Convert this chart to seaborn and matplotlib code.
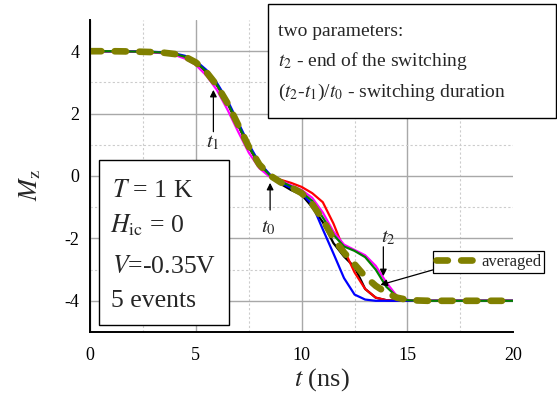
import numpy as np
import pandas as pd
import seaborn as sns
import matplotlib.pyplot as plt
from matplotlib.patches import Rectangle
from matplotlib.ticker import MultipleLocator

# time grid (ns) shared by all curves
t = [0, 1, 2, 3, 3.5, 4, 4.5, 5, 5.5, 6, 6.5, 7, 7.5, 8, 8.5, 9, 9.5, 10, 10.5,
     11, 11.5, 12, 12.5, 13, 13.5, 14, 14.5, 15, 15.5, 16, 17, 18, 19, 20]

# Mz for the 5 events
mz_black = [4.0, 4.0, 3.99, 3.97, 3.95, 3.91, 3.82, 3.64, 3.33, 2.9, 2.32, 1.62, 0.92, 0.36, 0.0,
            -0.25, -0.45, -0.6, -1.0, -1.48, -2.15, -2.58, -2.92, -3.62, -3.9, -3.98, -4.0, -4.0, -4.0,
            -4.0, -4.0, -4.0, -4.0, -4.0]
mz_red = [4.0, 4.0, 3.99, 3.97, 3.95, 3.91, 3.82, 3.65, 3.35, 2.92, 2.35, 1.65, 0.95, 0.38, 0.03,
          -0.12, -0.22, -0.35, -0.55, -0.84, -1.52, -2.36, -3.09, -3.62, -3.9, -3.98, -4.0, -4.0, -4.0,
          -4.0, -4.0, -4.0, -4.0, -4.0]
mz_blue = [4.0, 4.0, 4.0, 3.98, 3.96, 3.93, 3.85, 3.69, 3.4, 2.98, 2.42, 1.72, 1.02, 0.43, 0.05,
           -0.22, -0.38, -0.55, -0.92, -1.71, -2.48, -3.27, -3.8, -3.96, -4.0, -4.0, -4.0, -4.0, -4.0,
           -4.0, -4.0, -4.0, -4.0, -4.0]
mz_magenta = [4.0, 4.0, 3.99, 3.96, 3.93, 3.88, 3.76, 3.56, 3.22, 2.75, 2.12, 1.42, 0.75, 0.25, -0.03,
              -0.15, -0.3, -0.45, -0.7, -1.17, -1.78, -2.2, -2.37, -2.54, -2.88, -3.41, -3.85, -3.97, -4.0,
              -4.0, -4.0, -4.0, -4.0, -4.0]
mz_green = [4.0, 4.0, 3.99, 3.97, 3.95, 3.91, 3.82, 3.65, 3.35, 2.92, 2.35, 1.65, 0.95, 0.38, 0.02,
            -0.17, -0.33, -0.52, -0.8, -1.33, -1.88, -2.26, -2.4, -2.6, -3.0, -3.55, -3.87, -3.98, -4.0,
            -4.0, -4.0, -4.0, -4.0, -4.0]
mz_avg = [4.0, 4.0, 3.99, 3.97, 3.95, 3.91, 3.82, 3.64, 3.33, 2.9, 2.33, 1.64, 0.94, 0.37, 0.02,
          -0.2, -0.36, -0.55, -0.9, -1.4, -2.0, -2.45, -2.83, -3.22, -3.52, -3.74, -3.9, -3.97, -3.99,
          -4.0, -4.0, -4.0, -4.0, -4.0]

events = ["black", "red", "blue", "magenta", "green"]
colores = ["#000000", "#ff0000", "#0000ff", "#ff00ff", "#008000"]

df = pd.concat([
    pd.DataFrame({"t": t, "Mz": mz, "event": ev})
    for ev, mz in zip(events, [mz_black, mz_red, mz_blue, mz_magenta, mz_green])
])
df_avg = pd.DataFrame({"t": t, "Mz": mz_avg})

sns.set_theme(style="white")
plt.rcParams["font.family"] = ["Liberation Serif", "DejaVu Serif"]
plt.rcParams["mathtext.fontset"] = "stix"
plt.rcParams["axes.unicode_minus"] = False

W, H = 557, 399
fig = plt.figure(figsize=(W / 100, H / 100), dpi=100)
ax = fig.add_axes([90 / W, 1 - 332 / H, 423.3 / W, 312 / H])

def px(x, y):
    # pixel position -> figure fraction
    return x / W, 1 - y / H

sns.lineplot(data=df, x="t", y="Mz", hue="event", hue_order=events, palette=colores,
             lw=1.6, legend=False, estimator=None, sort=False, ax=ax)
sns.lineplot(data=df_avg, x="t", y="Mz", color="#808000", lw=4.8,
             linestyle=(0, (1.7, 2.0)), dash_capstyle="round", estimator=None, sort=False, ax=ax)
avg_line = ax.lines[-1]

ax.set_xlim(0, 20)
ax.set_ylim(-5, 5)
ax.xaxis.set_major_locator(MultipleLocator(5))
ax.xaxis.set_minor_locator(MultipleLocator(2.5))
ax.yaxis.set_major_locator(MultipleLocator(2))
ax.yaxis.set_minor_locator(MultipleLocator(1))
ax.grid(which="major", color="#a8a8a8", lw=1.0, ls="-")
ax.grid(which="minor", color="#cccccc", lw=0.8, ls=(0, (2, 2)))
ax.set_axisbelow(True)
for s in ["top", "right"]:
    ax.spines[s].set_visible(False)
for s in ["left", "bottom"]:
    ax.spines[s].set_linewidth(1.4)
    ax.spines[s].set_color("black")
ax.tick_params(which="major", direction="inout", length=11, width=1.1, labelsize=13, colors="black")
ax.tick_params(which="minor", direction="inout", length=5, width=1.0)
ax.tick_params(axis="x", pad=5)
ax.tick_params(axis="y", pad=2)

ax.set_xlabel(r"$t$ (ns)", fontsize=19)
ax.set_ylabel(r"$M_{\rm z}$", fontsize=19)
ax.xaxis.set_label_coords(0.549, -0.11)
ax.yaxis.set_label_coords(-0.11, 0.47)

fig.canvas.draw()
for tk in ax.xaxis.get_major_ticks():
    if np.isclose(tk.get_loc(), 20):
        tk.gridline.set_visible(False)
for tk in ax.yaxis.get_minor_ticks():
    if np.isclose(tk.get_loc(), 5):
        tk.gridline.set_visible(False)

# arrows marking t1, t0, t2
arrow_kw = dict(arrowstyle="-|>", color="black", lw=0.9, mutation_scale=10, shrinkA=0, shrinkB=0)
ax.annotate("", xy=(5.83, 2.76), xytext=(5.83, 1.42), arrowprops=arrow_kw)
ax.annotate("", xy=(8.51, -0.22), xytext=(8.51, -1.09), arrowprops=arrow_kw)
ax.annotate("", xy=(13.86, -3.21), xytext=(13.86, -2.27), arrowprops=arrow_kw)
fig.text(*px(206, 147), r"$t_1$", fontsize=15, va="baseline")
fig.text(*px(261, 232), r"$t_0$", fontsize=15, va="baseline")
fig.text(*px(381, 242), r"$t_2$", fontsize=15, va="baseline")

# legend box with pointer
leg = ax.legend([avg_line], ["averaged"], loc="upper left", bbox_to_anchor=px(432.7, 250.7),
                bbox_transform=fig.transFigure, fontsize=12, frameon=True, fancybox=False,
                framealpha=1, edgecolor="black", borderpad=0.2, borderaxespad=0,
                handlelength=2.4, handletextpad=0.3)
leg.get_frame().set_linewidth(0.9)
ax.annotate("", xy=(13.72, -3.49), xytext=(16.2, -3.01), arrowprops=arrow_kw)

# text boxes
fig.add_artist(Rectangle(px(99, 325), 130 / W, 165 / H, transform=fig.transFigure,
                         fc="white", ec="black", lw=1.0))
fig.add_artist(Rectangle(px(268, 118), 288 / W, 114 / H, transform=fig.transFigure,
                         fc="white", ec="black", lw=1.0))

for (x, y), s in zip([(112, 197), (110, 232), (112, 273), (111, 307)],
                     [r"$T$ = 1 K", r"$H_{\rm ic}$ = 0", r"$V$=-0.35V", "5 events"]):
    fig.text(*px(x, y), s, fontsize=18.5, va="baseline")

for (x, y), s in zip([(278, 36), (278, 66), (278, 97)],
                     ["two parameters:", r"$t_2$ - end of the switching",
                      r"($t_2$-$t_1$)/$t_0$ - switching duration"]):
    fig.text(*px(x, y), s, fontsize=14, va="baseline")

plt.savefig("out.png", dpi=100)
